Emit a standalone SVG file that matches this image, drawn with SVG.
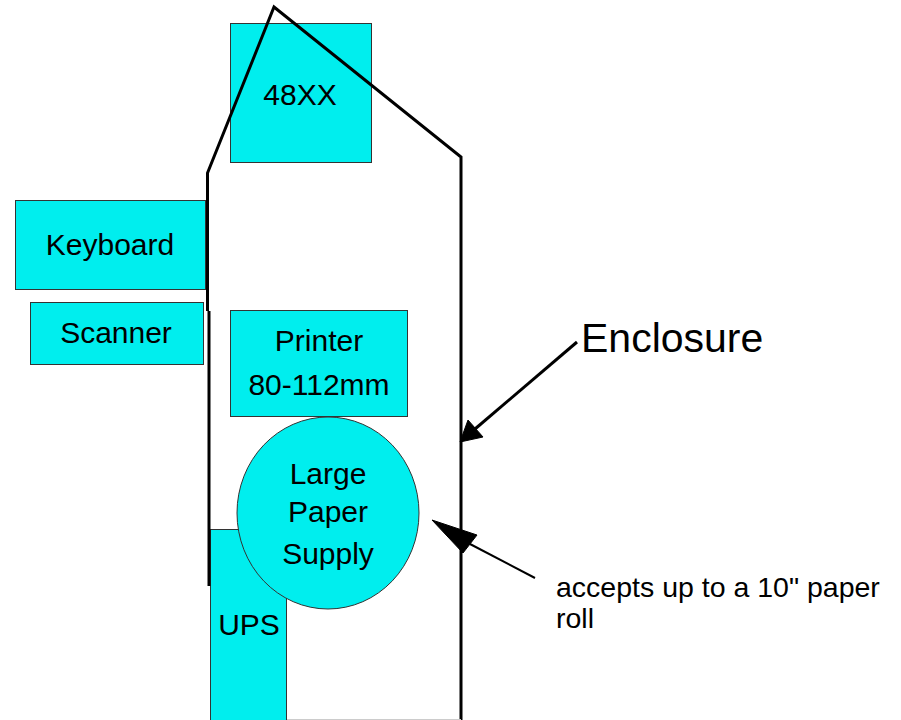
<svg xmlns="http://www.w3.org/2000/svg" width="901" height="720" viewBox="0 0 901 720">
  <style>
    .box { fill: #00EEEE; stroke: #333333; stroke-width: 1; }
    .lbl { font-family: "Liberation Sans", Arial, sans-serif; font-size: 30px; fill: #000000; text-anchor: middle; }
    .note { font-family: "Liberation Sans", Arial, sans-serif; font-size: 28.5px; fill: #000000; }
    .wall { fill: none; stroke: #000000; stroke-width: 3; stroke-linejoin: miter; }
    .lead { fill: none; stroke: #000000; }
    .head { fill: #000000; stroke: #000000; stroke-width: 1; stroke-linejoin: miter; }
  </style>

  <rect width="901" height="720" fill="#ffffff"/>

  <!-- components -->
  <g id="ups">
    <rect class="box" x="210.5" y="529.5" width="76" height="200"/>
    <text class="lbl" x="249" y="635">UPS</text>
  </g>

  <g id="unit-48xx">
    <rect class="box" x="230.5" y="23.5" width="141" height="139"/>
    <text class="lbl" x="300" y="105">48XX</text>
  </g>

  <g id="keyboard">
    <rect class="box" x="15.5" y="200.5" width="190" height="89"/>
    <text class="lbl" x="110" y="255">Keyboard</text>
  </g>

  <g id="scanner">
    <rect class="box" x="30.5" y="302.5" width="173" height="62"/>
    <text class="lbl" x="116" y="343">Scanner</text>
  </g>

  <g id="printer">
    <rect class="box" x="230.5" y="310.5" width="177" height="106"/>
    <text class="lbl" x="319" y="351">Printer</text>
    <text class="lbl" x="319" y="395">80-112mm</text>
  </g>

  <g id="paper-supply">
    <ellipse class="box" cx="328" cy="513" rx="91" ry="96"/>
    <text class="lbl" x="328" y="484">Large</text>
    <text class="lbl" x="328" y="522">Paper</text>
    <text class="lbl" x="328" y="564">Supply</text>
  </g>

  <!-- enclosure outline -->
  <g id="enclosure">
    <polyline class="wall" points="207.5,311 207.5,173 274,7 461,157 461,722"/>
    <line class="wall" x1="209" y1="311" x2="209" y2="586"/>
    <line x1="287" y1="719.5" x2="461" y2="719.5" stroke="#cccccc" stroke-width="1"/>
    <text class="note" x="581" y="352" style="font-size:41px">Enclosure</text>
  </g>

  <g id="paper-note">
    <text class="note" x="556" y="597">accepts up to a 10" paper</text>
    <text class="note" x="556" y="628">roll</text>
  </g>

  <!-- callout arrows -->
  <g id="connectors">
    <line class="lead" x1="577" y1="342" x2="475" y2="429" stroke-width="3"/>
    <polygon class="head" points="460,442 483,437 468,420"/>
    <line class="lead" x1="535" y1="578" x2="470" y2="544" stroke-width="2"/>
    <polygon class="head" points="432,520 477,535 463,553"/>
  </g>
</svg>
